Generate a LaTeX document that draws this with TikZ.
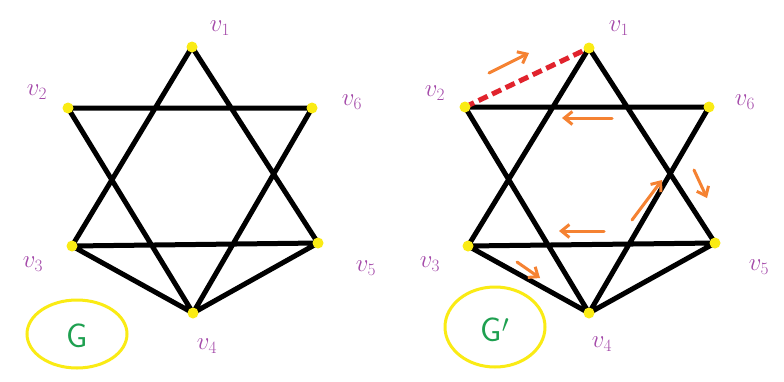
\documentclass[tikz,border=0pt]{standalone}
\usetikzlibrary{arrows.meta}
\definecolor{vpurple}{RGB}{165,75,170}
\definecolor{dotyellow}{RGB}{250,235,20}
\definecolor{arrorange}{RGB}{245,130,50}
\definecolor{gGreen}{RGB}{30,160,80}
\definecolor{dashred}{RGB}{225,35,45}
\tikzset{
  vdot/.style={circle,fill=dotyellow,inner sep=0pt,minimum size=11pt},
  edge/.style={line width=5pt,black},
  vlabel/.style={text=vpurple,font=\fontsize{24}{24}\selectfont\sffamily},
  hint/.style={arrorange,line width=3pt,-{Straight Barb[length=8pt,width=13pt]},line cap=round},
  glabel/.style={text=gGreen,font=\fontsize{34}{34}\selectfont\sffamily},
}
\begin{document}
\begin{tikzpicture}[x=1pt,y=-1pt]
\useasboundingbox (0,0) rectangle (784,381);
\fill[white] (0,0) rectangle (784,381);
% ---------- Left graph G ----------
\coordinate (a1) at (192,47);
\coordinate (a2) at (68,108);
\coordinate (a6) at (312,108);
\coordinate (a3) at (72,246);
\coordinate (a5) at (318,243);
\coordinate (a4) at (193,313);
\draw[edge] (a1)--(a3) (a1)--(a5) (a2)--(a6) (a2)--(a4) (a6)--(a4) (a3)--(a5) (a3)--(a4) (a5)--(a4);
\foreach \n in {a1,a2,a3,a4,a5,a6} \node[vdot] at (\n) {};
\node[vlabel] (la1) at (220,28) {$v_1$};
\node[vlabel] (la2) at (37,92) {$v_2$};
\node[vlabel] (la6) at (352,102) {$v_6$};
\node[vlabel] (la3) at (33,264) {$v_3$};
\node[vlabel] (la5) at (366,268) {$v_5$};
\node[vlabel] (la4) at (207,346) {$v_4$};
\draw[dotyellow,line width=3pt] (77,334) ellipse (50 and 34);
\node[glabel] (gG) at (77,336) {G};
% ---------- Right graph G' ----------
\coordinate (b1) at (589,48);
\coordinate (b2) at (465,107);
\coordinate (b6) at (709,107);
\coordinate (b3) at (468,246);
\coordinate (b5) at (715,243);
\coordinate (b4) at (589,313);
\draw[edge] (b1)--(b3) (b1)--(b5) (b2)--(b6) (b2)--(b4) (b6)--(b4) (b3)--(b5) (b3)--(b4) (b5)--(b4);
\draw[dashred,line width=5pt,dash pattern=on 10pt off 5pt] (b2)--(b1);
\foreach \n in {b1,b2,b3,b4,b5,b6} \node[vdot] at (\n) {};
\node[vlabel] (lb1) at (619,28) {$v_1$};
\node[vlabel] (lb2) at (435,93) {$v_2$};
\node[vlabel] (lb6) at (745,102) {$v_6$};
\node[vlabel] (lb3) at (430,264) {$v_3$};
\node[vlabel] (lb5) at (759,267) {$v_5$};
\node[vlabel] (lb4) at (602,344) {$v_4$};
\draw[dotyellow,line width=3pt] (495,327) ellipse (50 and 40);
\node[glabel] (gG2) at (495,330) {G$^{\prime}$};
% orange hints
\coordinate (h1s) at (489,73); \coordinate (h1e) at (529,53);
\coordinate (h2s) at (612,118); \coordinate (h2e) at (562,118);
\coordinate (h3s) at (694,170); \coordinate (h3e) at (707,198);
\coordinate (h4s) at (632,220); \coordinate (h4e) at (662,180);
\coordinate (h5s) at (604,231); \coordinate (h5e) at (559,231);
\coordinate (h6s) at (517,262); \coordinate (h6e) at (540,278);
\draw[hint] (h1s)--(h1e);
\draw[hint] (h2s)--(h2e);
\draw[hint] (h3s)--(h3e);
\draw[hint] (h4s)--(h4e);
\draw[hint] (h5s)--(h5e);
\draw[hint] (h6s)--(h6e);
\end{tikzpicture}
\end{document}
